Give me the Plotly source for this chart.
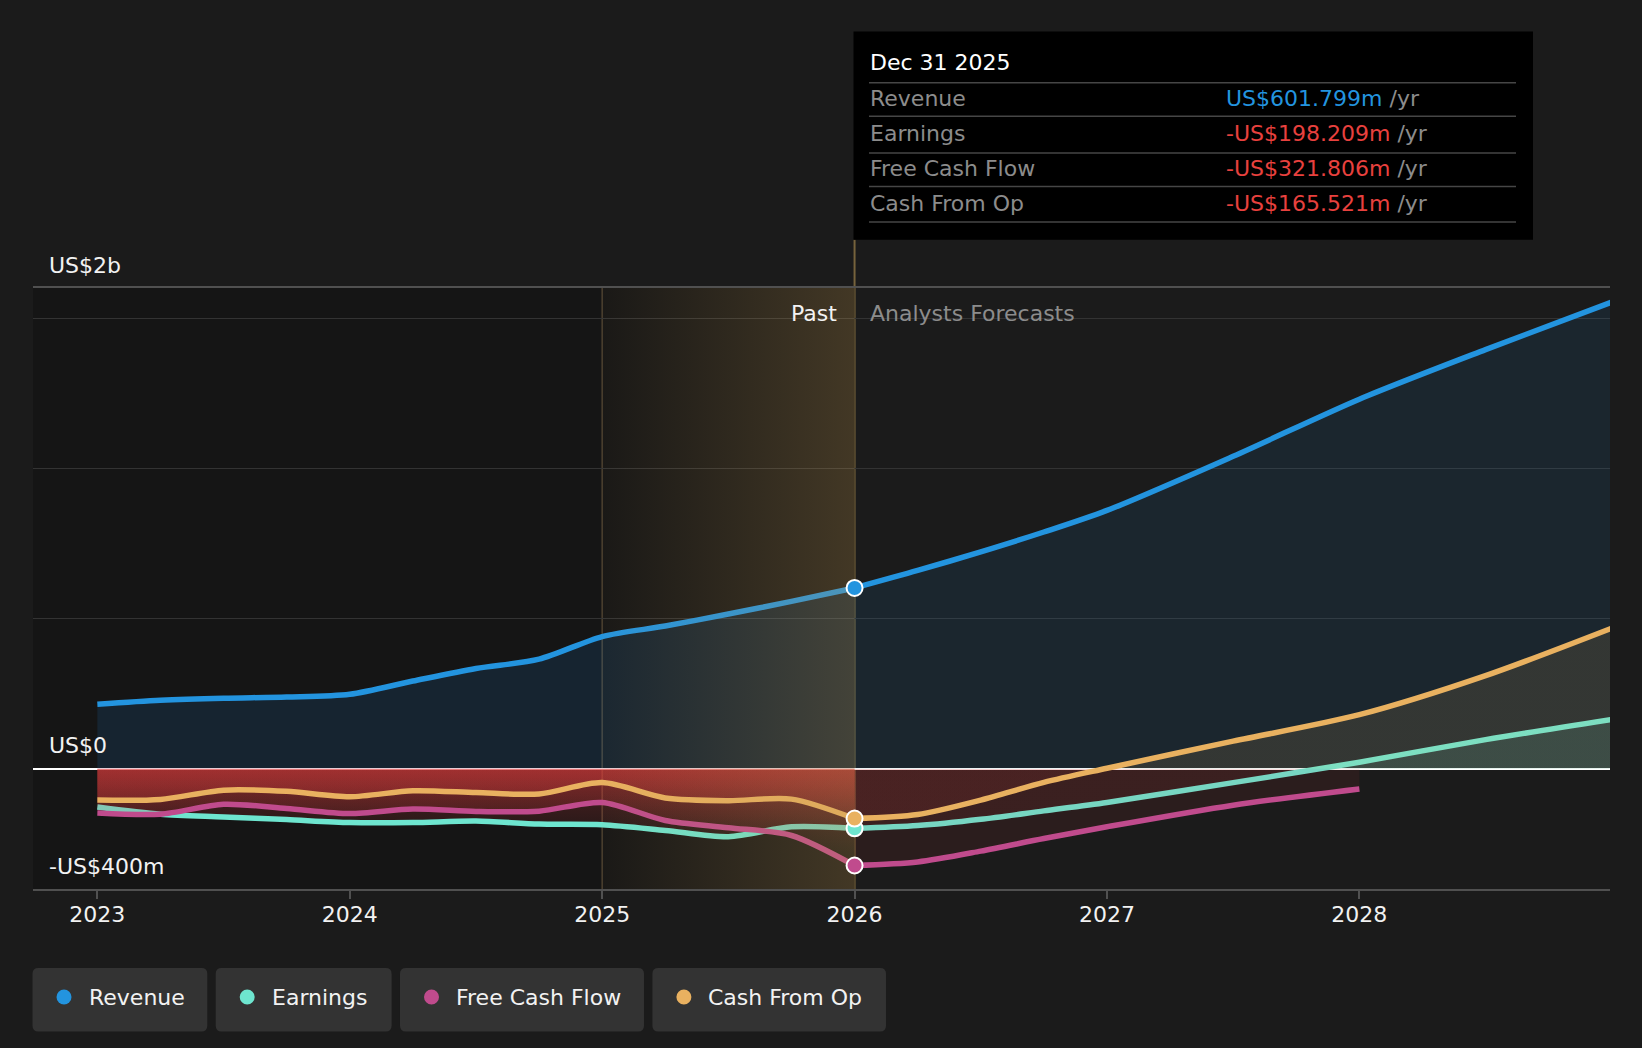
import plotly.graph_objects as go

# ---------------- data (US$ millions) ----------------
past_x = [2023.0, 2023.25, 2023.5, 2023.75, 2024.0, 2024.25, 2024.5,
          2024.75, 2025.0, 2025.25, 2025.5, 2025.75, 2026.0]
revenue_past = [215, 228, 235, 239, 248, 292, 334, 365, 440, 475, 515, 557, 601.799]
earnings_past = [-127, -151, -160, -169, -179, -179, -174, -184, -186, -205, -226, -193, -198.209]
fcf_past = [-147, -151, -118, -132, -149, -134, -142, -141, -112, -172, -196, -222, -321.806]
cfo_past = [-104, -102, -71, -75, -93, -73, -79, -84, -46, -97, -106, -101, -165.521]

fc_x = [2026.0, 2026.25, 2026.5, 2026.75, 2027.0, 2027.5, 2028.0, 2028.5, 2029.0]
revenue_fc = [601.799, 660, 722, 788, 860, 1040, 1230, 1395, 1553]
earnings_fc = [-198.209, -189, -168, -140, -112, -46, 22, 97, 164]
cfo_fc = [-165.521, -152, -104, -45, 2, 92, 180, 310, 468]
fcf_fc_x = [2026.0, 2026.25, 2026.5, 2026.75, 2027.0, 2027.5, 2028.0]
fcf_fc = [-321.806, -310, -274, -232, -193, -121, -67]

series_names = ["Revenue", "Earnings", "Free Cash Flow", "Cash From Op"]
series_colors = ["#2394df", "#6ee5cf", "#c04b8d", "#e9b160"]
tooltip_date = "Dec 31 2025"
tooltip_values = [601.799, -198.209, -321.806, -165.521]

year_ticks = [2023, 2024, 2025, 2026, 2027, 2028]
year_labels = ["2023", "2024", "2025", "2026", "2027", "2028"]
y_label_values = [1600, 0, -400]
y_label_texts = ["US$2b", "US$0", "-US$400m"]
grid_values = [0, 500, 1000, 1500]

PAST_ZONE_START = 2025.0
FORECAST_START = 2026.0

# ---------------- layout geometry ----------------
W, H = 1642, 1048
M_L, M_R, M_T, M_B = 33, 32, 288, 159
PW = W - M_L - M_R
PH = H - M_T - M_B
X_RANGE = [2022.745, 2028.993]
Y_RANGE = [-400, 1600]
FONT = "DejaVu Sans"
FS = 22


def fx(p):
    return (p - M_L) / PW


def fy(p):
    return (H - M_B - p) / PH


def xdata_to_paper(v):
    return (v - X_RANGE[0]) / (X_RANGE[1] - X_RANGE[0])


RED = "225,60,60"
ZF = (0 - Y_RANGE[0]) / (Y_RANGE[1] - Y_RANGE[0])


def past_neg_grad():
    return dict(type="vertical", start=Y_RANGE[0], stop=0,
                colorscale=[[0, f"rgba({RED},0)"], [0.3, f"rgba({RED},0)"],
                            [1, f"rgba({RED},0.32)"]])


def split_grad(rgb, a_pos, a_neg=0.085):
    neg = f"rgba({RED},{a_neg})"
    pos = f"rgba({rgb},{a_pos})"
    return dict(type="vertical", start=Y_RANGE[0], stop=Y_RANGE[1],
                colorscale=[[0, neg], [ZF, neg], [ZF, pos], [1, pos]])


fig = go.Figure()


def add_series(x, y, color, **fill):
    fig.add_trace(go.Scatter(
        x=x, y=y, mode="lines",
        line=dict(color=color, width=5.5, shape="spline", smoothing=0.8),
        fill="tozeroy", hoverinfo="skip", showlegend=False, **fill))


# past
add_series(past_x, revenue_past, series_colors[0], fillcolor="rgba(33,150,243,0.12)")
add_series(past_x, earnings_past, series_colors[1], fillgradient=past_neg_grad())
add_series(past_x, fcf_past, series_colors[2], fillgradient=past_neg_grad())
add_series(past_x, cfo_past, series_colors[3], fillgradient=past_neg_grad())
# forecast
add_series(fc_x, revenue_fc, series_colors[0], fillcolor="rgba(33,150,243,0.09)")
add_series(fc_x, earnings_fc, series_colors[1], fillgradient=split_grad("108,230,205", 0.13))
add_series(fcf_fc_x, fcf_fc, series_colors[2], fillcolor=f"rgba({RED},0.085)")
add_series(fc_x, cfo_fc, series_colors[3], fillgradient=split_grad("232,176,92", 0.12))

# highlighted "past" zone overlay (gradient)
fig.add_trace(go.Scatter(
    x=[PAST_ZONE_START, FORECAST_START, FORECAST_START, PAST_ZONE_START],
    y=[Y_RANGE[0], Y_RANGE[0], Y_RANGE[1], Y_RANGE[1]],
    mode="none", fill="toself", hoverinfo="skip", showlegend=False,
    fillgradient=dict(type="horizontal", start=PAST_ZONE_START, stop=FORECAST_START,
                      colorscale=[[0, "rgba(190,150,80,0.03)"], [1, "rgba(190,150,80,0.27)"]])))

# markers at the tooltip date
fig.add_trace(go.Scatter(
    x=[FORECAST_START] * 4, y=tooltip_values, mode="markers",
    marker=dict(size=16, color=series_colors, line=dict(color="white", width=2)),
    hoverinfo="skip", showlegend=False, cliponaxis=False))

shapes = []
# dark past background
shapes.append(dict(type="rect", xref="x", yref="y", x0=X_RANGE[0], x1=FORECAST_START,
                   y0=Y_RANGE[0], y1=Y_RANGE[1], fillcolor="#151515", line=dict(width=0),
                   layer="below"))
# 2025 divider
shapes.append(dict(type="line", xref="x", yref="y", x0=PAST_ZONE_START, x1=PAST_ZONE_START,
                   y0=Y_RANGE[0], y1=Y_RANGE[1], line=dict(color="rgba(120,100,70,0.55)", width=1.5),
                   layer="below"))
# tooltip box
TT_X0, TT_X1, TT_Y0, TT_Y1 = 853.5, 1533, 31.4, 239.8
shapes.append(dict(type="rect", xref="paper", yref="paper", x0=fx(TT_X0), x1=fx(TT_X1),
                   y0=fy(TT_Y1), y1=fy(TT_Y0), fillcolor="#000000", line=dict(width=0),
                   layer="above"))
# 2026 divider line from tooltip down to axis
x26 = xdata_to_paper(FORECAST_START)
shapes.append(dict(type="line", xref="paper", yref="paper", x0=x26, x1=x26,
                   y0=0, y1=fy(TT_Y1), line=dict(color="#76633c", width=2), layer="below"))
# tooltip separators
for sy in [82.7, 116.2, 152.9, 186.4, 222.0]:
    shapes.append(dict(type="line", xref="paper", yref="paper", x0=fx(869), x1=fx(1516),
                       y0=fy(sy), y1=fy(sy), line=dict(color="#464646", width=1.5),
                       layer="above"))


def rrect(x0, y0, x1, y1, r):
    pts = [("M", x0 + r, y0), ("L", x1 - r, y0), ("Q", x1, y0, x1, y0 + r),
           ("L", x1, y1 - r), ("Q", x1, y1, x1 - r, y1), ("L", x0 + r, y1),
           ("Q", x0, y1, x0, y1 - r), ("L", x0, y0 + r), ("Q", x0, y0, x0 + r, y0)]
    out = []
    for p in pts:
        cmd, coords = p[0], p[1:]
        s = cmd + " " + " ".join(
            f"{fx(coords[i]):.5f},{fy(coords[i + 1]):.5f}" for i in range(0, len(coords), 2))
        out.append(s)
    return " ".join(out) + " Z"


annotations = []
# legend chips
legend_boxes = [(32.5, 207.3), (215.7, 391.6), (400.0, 644.0), (652.4, 886.0)]
LG_Y0, LG_Y1 = 968.0, 1031.5
LG_YC = 997.0
for (bx0, bx1), name, col in zip(legend_boxes, series_names, series_colors):
    shapes.append(dict(type="path", xref="paper", yref="paper", path=rrect(bx0, LG_Y0, bx1, LG_Y1, 6),
                       fillcolor="#333333", line=dict(width=0), layer="above"))
    cx = bx0 + 31.5
    shapes.append(dict(type="circle", xref="paper", yref="paper",
                       x0=fx(cx - 7.5), x1=fx(cx + 7.5), y0=fy(LG_YC + 7.5), y1=fy(LG_YC - 7.5),
                       fillcolor=col, line=dict(width=0), layer="above"))
    annotations.append(dict(xref="paper", yref="paper", x=fx(bx0 + 54), y=fy(LG_YC),
                            xanchor="left", yanchor="middle", showarrow=False, text=name,
                            font=dict(family=FONT, size=FS, color="#f2f2f2")))

# y labels
for v, t in zip(y_label_values, y_label_texts):
    annotations.append(dict(xref="paper", yref="y", x=fx(47), y=v, xanchor="left",
                            yanchor="middle", yshift=23, showarrow=False, text=t,
                            font=dict(family=FONT, size=FS, color="#f2f2f2")))

# past / forecast labels
annotations.append(dict(xref="x", yref="y", x=FORECAST_START, y=Y_RANGE[1], xanchor="right",
                        yanchor="middle", xshift=-16, yshift=-25, showarrow=False, text="Past",
                        font=dict(family=FONT, size=FS, color="#f2f2f2")))
annotations.append(dict(xref="x", yref="y", x=FORECAST_START, y=Y_RANGE[1], xanchor="left",
                        yanchor="middle", xshift=13, yshift=-25, showarrow=False,
                        text="Analysts Forecasts",
                        font=dict(family=FONT, size=FS, color="#8c8c8c")))

# tooltip text
annotations.append(dict(xref="paper", yref="paper", x=fx(868), y=fy(62.8), xanchor="left",
                        yanchor="middle", showarrow=False, text=tooltip_date,
                        font=dict(family=FONT, size=FS, color="#ffffff")))
row_y = [98.4, 133.0, 168.6, 203.2]
for ry, name, v in zip(row_y, series_names, tooltip_values):
    annotations.append(dict(xref="paper", yref="paper", x=fx(868), y=fy(ry), xanchor="left",
                            yanchor="middle", showarrow=False, text=name,
                            font=dict(family=FONT, size=FS, color="#8c8c8c")))
    vcol = "#2394df" if v >= 0 else "#e8413e"
    vtxt = f"{'-' if v < 0 else ''}US${abs(v):.3f}m"
    annotations.append(dict(xref="paper", yref="paper", x=fx(1224), y=fy(ry), xanchor="left",
                            yanchor="middle", showarrow=False,
                            text=f"<span style='color:{vcol}'>{vtxt}</span> /yr",
                            font=dict(family=FONT, size=FS, color="#8c8c8c")))

fig.update_layout(
    width=W, height=H,
    margin=dict(l=M_L, r=M_R, t=M_T, b=M_B, pad=0),
    paper_bgcolor="#1b1b1b", plot_bgcolor="rgba(0,0,0,0)",
    font=dict(family=FONT, size=FS, color="#f2f2f2"),
    showlegend=False,
    shapes=shapes, annotations=annotations,
    xaxis=dict(range=X_RANGE, tickvals=year_ticks, ticktext=year_labels, showgrid=False,
               zeroline=False, showline=True, mirror=True, linecolor="#505050", linewidth=2,
               ticks="outside", ticklen=8, tickwidth=2, tickcolor="#505050",
               ticklabelstandoff=-3,
               tickfont=dict(family=FONT, size=FS, color="#f2f2f2"), fixedrange=True),
    yaxis=dict(range=Y_RANGE, tickvals=grid_values, showticklabels=False, showgrid=True,
               gridcolor="#333333", gridwidth=1, zeroline=True, zerolinecolor="#ffffff",
               zerolinewidth=2, showline=False, fixedrange=True),
)

fig.write_html("out.html", config={"displayModeBar": False},
               post_script="document.body.style.margin='0px';document.body.style.background='#1b1b1b';")
